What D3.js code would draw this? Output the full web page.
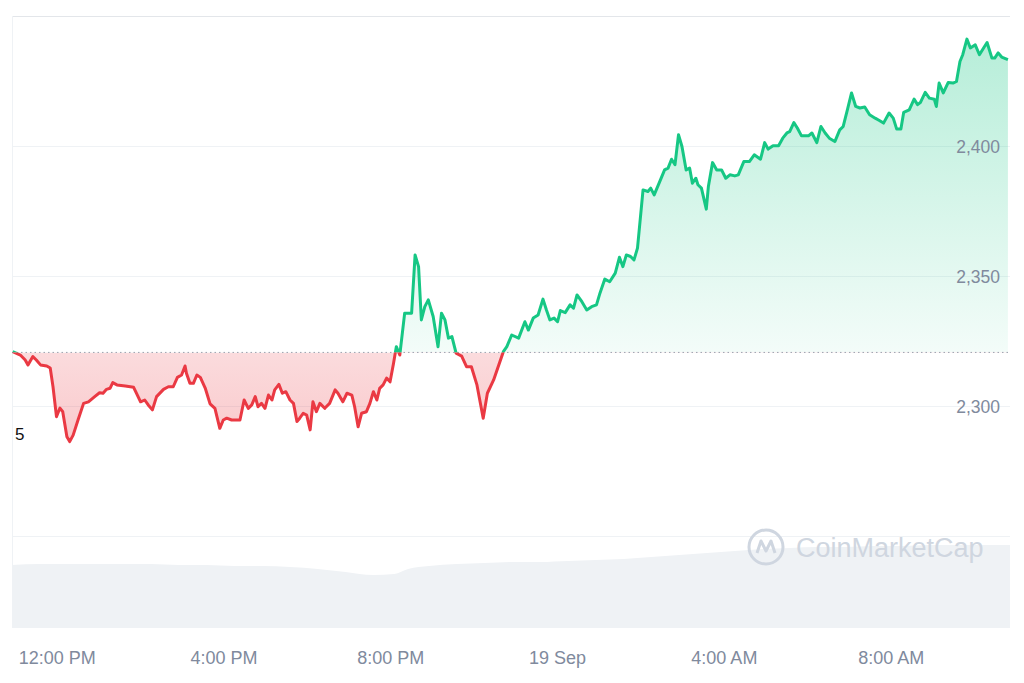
<!DOCTYPE html>
<html>
<head>
<meta charset="utf-8">
<script src="https://cdn.jsdelivr.net/npm/d3@7"></script>
<style>
  body { margin: 0; background: #fff; }
  svg text { font-family: "Liberation Sans", Arial, sans-serif; }
</style>
</head>
<body>
<svg id="chart" width="1024" height="683"></svg>
<script>
// price trace, minutes since 18 Sep 00:00
var minutes = [656,667,674,678,685,690,696,705,710,714,719,724,728,734,738,743,750,758,765,774,
  781,786,791,796,800,806,818,830,834,840,846,851,857,863,873,880,887,893,899,904,
  906,911,916,921,926,933,940,947,954,959,964,971,983,989,995,1000,1005,1009,1014,1019,
  1024,1029,1033,1039,1044,1049,1055,1060,1065,1069,1074,1079,1084,1088,1093,1098,1105,1112,1120,1124,
  1131,1137,1144,1148,1153,1158,1165,1170,1175,1180,1184,1189,1194,1199,1204,1208,1213,1220,1230,1235,
  1240,1244,1249,1254,1261,1268,1273,1278,1283,1288,1294,1302,1309,1316,1324,1333,1339,1348,1362,1367,
  1374,1384,1393,1398,1405,1412,1419,1424,1429,1435,1440,1444,1451,1458,1463,1468,1475,1482,1489,1496,
  1501,1508,1515,1523,1529,1534,1539,1545,1550,1555,1563,1570,1574,1579,1587,1594,1599,1604,1609,1614,
  1619,1625,1630,1634,1639,1642,1647,1654,1657,1663,1669,1676,1682,1688,1695,1700,1708,1716,1723,1732,
  1738,1743,1750,1758,1764,1770,1774,1780,1785,1791,1801,1806,1813,1819,1825,1831,1839,1846,1851,1857,
  1863,1869,1875,1882,1889,1897,1903,1909,1917,1923,1928,1934,1938,1946,1953,1958,1962,1969,1975,1982,
  1985,1989,1995,2002,2009,2014,2019,2023,2029,2034,2041,2047,2053,2058,2065,2069,2074,2079,2088];

var prices = [2321.1,2319.8,2317.9,2316.0,2319.2,2317.9,2316.0,2315.6,2314.8,2307.6,2296.1,2299.4,2298.0,2288.4,2286.5,2289.0,2294.8,2301.2,2301.8,2303.8,
  2305.3,2305.1,2306.6,2307.0,2309.2,2308.3,2307.9,2307.4,2305.1,2301.8,2302.5,2300.6,2298.7,2303.8,2306.6,2307.6,2307.6,2311.2,2312.1,2315.6,
  2312.8,2308.9,2308.9,2312.1,2311.2,2307.1,2301.0,2299.3,2291.6,2294.8,2295.5,2294.8,2294.8,2302.5,2299.3,2300.6,2303.8,2299.9,2301.2,2299.3,
  2304.4,2302.5,2306.4,2308.5,2305.1,2305.7,2302.5,2301.2,2294.2,2295.5,2297.4,2296.7,2291.0,2301.8,2298.0,2301.2,2299.3,2301.2,2306.4,2305.1,
  2301.8,2305.1,2304.4,2299.9,2292.2,2297.4,2298.0,2301.2,2305.7,2302.5,2307.0,2308.3,2310.9,2309.5,2316.6,2323.0,2319.8,2335.9,2335.9,2358.3,
  2353.8,2333.3,2338.4,2341.0,2334.6,2323.0,2335.9,2333.3,2326.3,2326.9,2320.5,2319.4,2315.3,2315.3,2308.3,2295.5,2305.1,2310.2,2321.1,2323.0,
  2327.5,2326.3,2332.6,2329.4,2334.0,2335.2,2341.3,2337.1,2333.3,2334.0,2332.6,2336.9,2336.1,2339.1,2337.8,2342.9,2340.3,2337.1,2338.4,2339.1,
  2343.6,2349.0,2348.0,2351.3,2357.4,2353.8,2358.3,2357.7,2356.4,2360.9,2383.3,2382.7,2384.0,2381.4,2386.5,2391.0,2391.7,2395.1,2393.0,2404.5,
  2400.0,2391.0,2391.7,2385.9,2387.8,2385.3,2384.0,2375.9,2384.6,2393.8,2391.0,2391.0,2387.8,2389.1,2388.7,2389.1,2394.2,2394.2,2396.8,2395.1,
  2401.5,2399.0,2400.3,2400.3,2403.2,2405.2,2405.7,2409.2,2407.1,2404.1,2404.1,2405.2,2401.5,2407.7,2405.2,2403.2,2401.9,2406.4,2407.7,2414.1,
  2420.6,2415.4,2414.8,2415.2,2412.2,2410.9,2410.0,2409.0,2412.9,2410.9,2406.7,2406.7,2413.1,2414.1,2418.2,2416.1,2416.9,2420.8,2418.6,2418.2,
  2415.4,2424.4,2420.6,2424.6,2424.4,2425.0,2432.7,2435.3,2441.3,2437.9,2439.1,2435.3,2437.9,2440.0,2434.0,2434.0,2436.0,2434.4,2433.4];

var openPrice = 2320.8;

// hourly 24h volume (bn $)
var volHours = [655,695,735,775,815,855,895,935,975,1015,1055,1095,1135,1175,1205,1225,1255,1295,1335,1375,1415,1455,1495,1535,1575,1615,1655,1695,1735,1775,1815,1855,1895,1935,1975,2015,2055,2091];
var volumes = [6.3,6.4,6.4,6.4,6.4,6.4,6.3,6.3,6.2,6.2,6.1,5.9,5.6,5.3,5.4,5.9,6.2,6.4,6.5,6.6,6.6,6.7,6.8,6.9,7.1,7.3,7.5,7.7,7.9,8.0,8.1,8.1,8.2,8.2,8.3,8.3,8.3,8.3];

var yTicks = [2300, 2350, 2400];
var gridVals = [2250, 2300, 2350, 2400, 2450];
var xTickMinutes = [720, 960, 1200, 1440, 1680, 1920];
var xTickLabels = ["12:00 PM", "4:00 PM", "8:00 PM", "19 Sep", "4:00 AM", "8:00 AM"];

var day0 = new Date(2023, 8, 18, 0, 0);
function toDate(m) { return new Date(day0.getTime() + m * 60000); }

var data = minutes.map(function(m, i) { return {t: toDate(m), p: prices[i]}; });
var vol = volHours.map(function(m, i) { return {t: toDate(m), v: volumes[i]}; });

var left = 12, right = 1010;
var x = d3.scaleTime().domain([toDate(655), toDate(2091)]).range([left, right]);
var y = d3.scaleLinear().domain([2250, 2450]).range([536.5, 16.5]);
var yv = d3.scaleLinear().domain([0, 9.1]).range([628, 537]);

var svg = d3.select("#chart");
var defs = svg.append("defs");

var base = y(openPrice);

var gGreen = defs.append("linearGradient").attr("id", "gGreen")
  .attr("gradientUnits", "userSpaceOnUse").attr("x1", 0).attr("x2", 0).attr("y1", 30).attr("y2", base);
gGreen.append("stop").attr("offset", 0).attr("stop-color", "#16c784").attr("stop-opacity", 0.32);
gGreen.append("stop").attr("offset", 1).attr("stop-color", "#16c784").attr("stop-opacity", 0.05);

var gRed = defs.append("linearGradient").attr("id", "gRed")
  .attr("gradientUnits", "userSpaceOnUse").attr("x1", 0).attr("x2", 0).attr("y1", base).attr("y2", 450);
gRed.append("stop").attr("offset", 0).attr("stop-color", "#ea3943").attr("stop-opacity", 0.18);
gRed.append("stop").attr("offset", 1).attr("stop-color", "#ea3943").attr("stop-opacity", 0.28);

defs.append("clipPath").attr("id", "above").append("rect")
  .attr("x", left).attr("y", 0).attr("width", right - left).attr("height", base);
defs.append("clipPath").attr("id", "below").append("rect")
  .attr("x", left).attr("y", base).attr("width", right - left).attr("height", 600 - base);

// gridlines
svg.append("g").selectAll("line").data(gridVals).enter().append("line")
  .attr("x1", left).attr("x2", right)
  .attr("y1", function(d) { return y(d); }).attr("y2", function(d) { return y(d); })
  .attr("stroke", function(d) { return d === 2450 ? "#e3e6ea" : "#eff2f5"; })
  .attr("stroke-width", 1);
svg.append("line").attr("x1", left + 0.5).attr("x2", left + 0.5).attr("y1", 16).attr("y2", 628)
  .attr("stroke", "#eff2f5");

// volume
svg.append("path").datum(vol)
  .attr("d", d3.area().x(function(d) { return x(d.t); }).y0(628).y1(function(d) { return yv(d.v); }).curve(d3.curveMonotoneX))
  .attr("fill", "#eff2f5");

// watermark
var wm = svg.append("g").attr("transform", "translate(766,547)");
wm.append("circle").attr("r", 17).attr("fill", "none").attr("stroke", "#cfd6e0").attr("stroke-width", 3);
wm.append("path").attr("d", "M-9,6 L-5,-6 L0,4 L5,-6 L9,6").attr("fill", "none")
  .attr("stroke", "#cfd6e0").attr("stroke-width", 3).attr("stroke-linejoin", "round");
wm.append("text").attr("x", 30).attr("y", 10).attr("font-size", 27)
  .attr("fill", "#cfd6e0").text("CoinMarketCap");

var area = d3.area().x(function(d) { return x(d.t); }).y0(base).y1(function(d) { return y(d.p); });
var line = d3.line().x(function(d) { return x(d.t); }).y(function(d) { return y(d.p); });

svg.append("path").datum(data).attr("d", area).attr("fill", "url(#gGreen)").attr("clip-path", "url(#above)");
svg.append("path").datum(data).attr("d", area).attr("fill", "url(#gRed)").attr("clip-path", "url(#below)");

// open price dotted line
svg.append("line").attr("x1", left).attr("x2", right).attr("y1", base).attr("y2", base)
  .attr("stroke", "#9aa1ad").attr("stroke-width", 1).attr("stroke-dasharray", "1.5,3");

svg.append("path").datum(data).attr("d", line).attr("fill", "none")
  .attr("stroke", "#16c784").attr("stroke-width", 3).attr("stroke-linejoin", "round")
  .attr("clip-path", "url(#above)");
svg.append("path").datum(data).attr("d", line).attr("fill", "none")
  .attr("stroke", "#ea3943").attr("stroke-width", 3).attr("stroke-linejoin", "round")
  .attr("clip-path", "url(#below)");

// y labels
svg.append("g").selectAll("text").data(yTicks).enter().append("text")
  .attr("x", 1000).attr("y", function(d) { return y(d); }).attr("dy", "0.35em")
  .attr("text-anchor", "end").attr("font-size", 17.5).attr("fill", "#808a9d")
  .text(d3.format(","));

// x labels
svg.append("g").selectAll("text").data(xTickMinutes).enter().append("text")
  .attr("x", function(d) { return x(toDate(d)); }).attr("y", 664)
  .attr("text-anchor", "middle").attr("font-size", 18).attr("fill", "#808a9d")
  .text(function(d, i) { return xTickLabels[i]; });

svg.append("text").attr("x", 15).attr("y", 440).attr("font-size", 17).attr("fill", "#111").text("5");
</script>
</body>
</html>
